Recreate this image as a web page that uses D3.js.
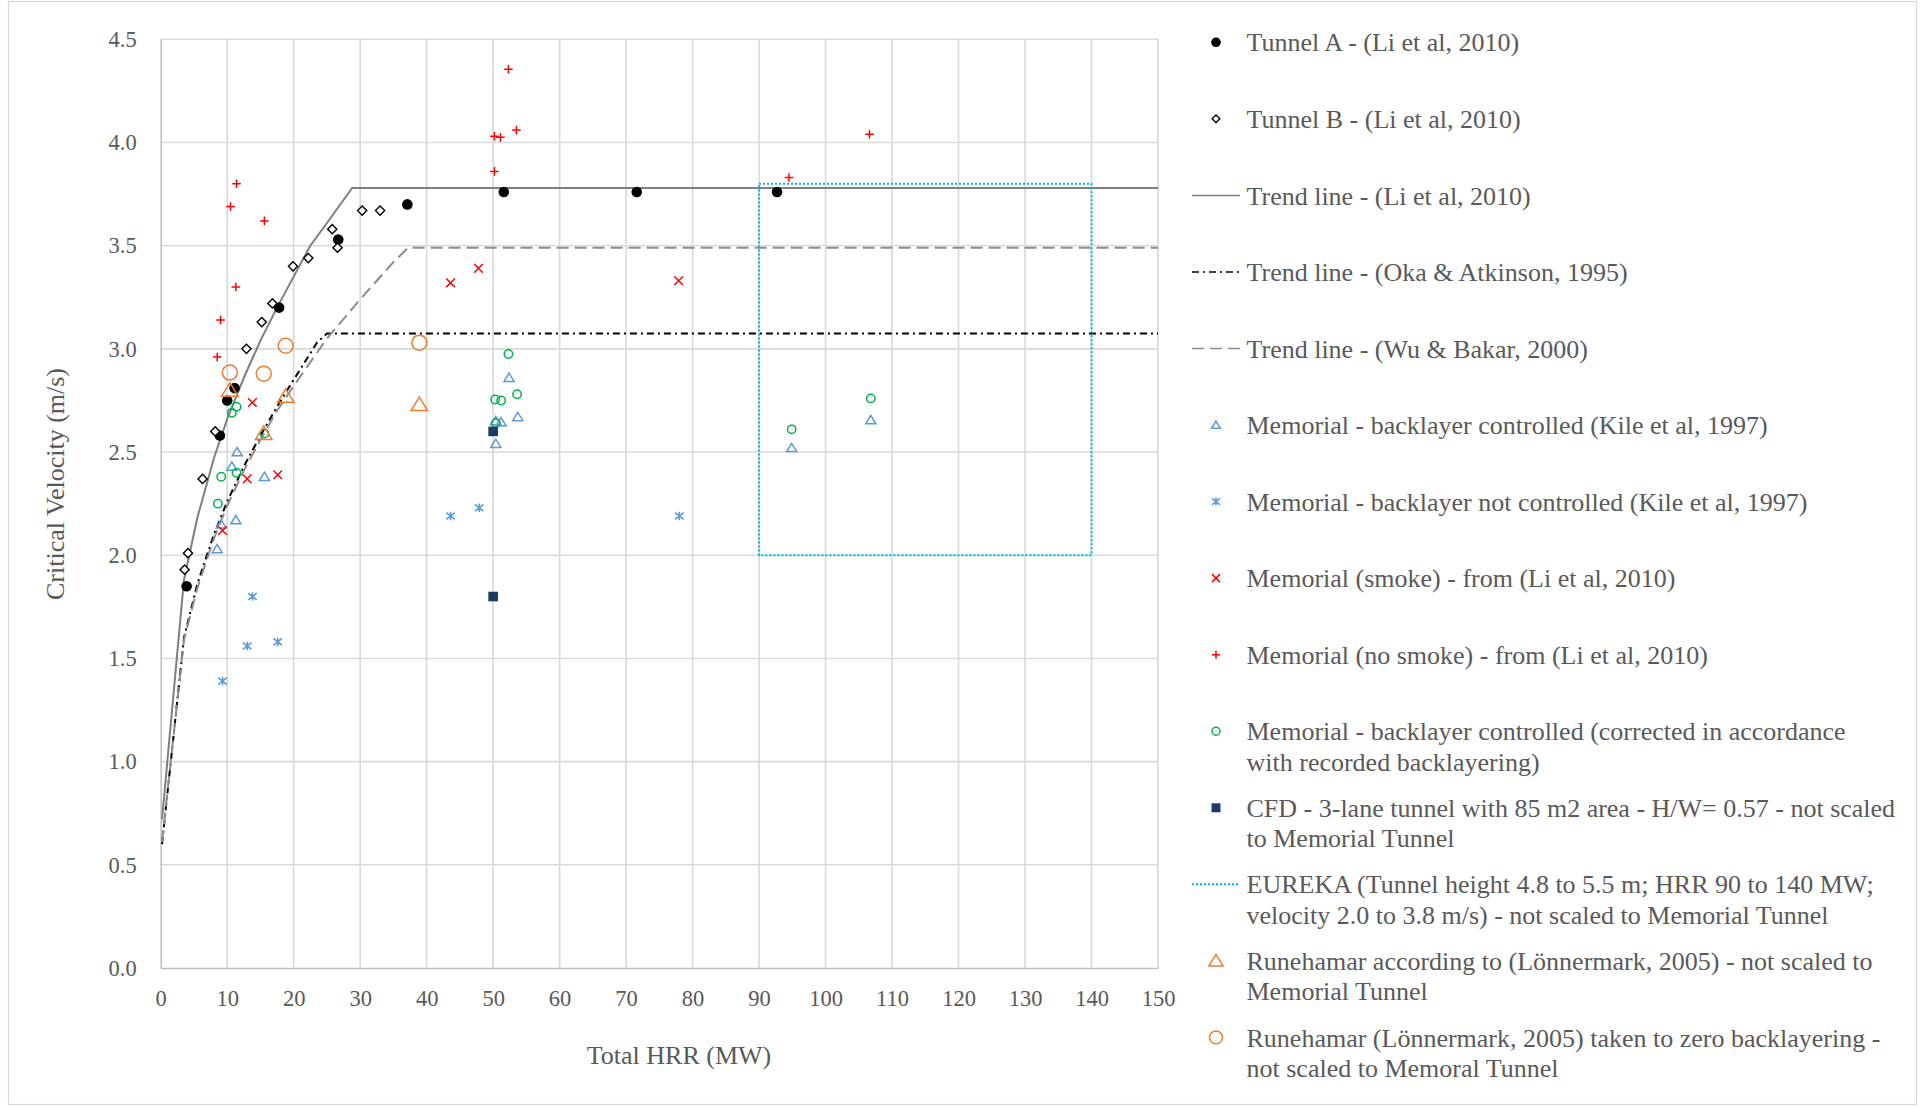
<!DOCTYPE html>
<html>
<head>
<meta charset="utf-8">
<script src="https://cdn.jsdelivr.net/npm/d3@7"></script>
<style>
  html, body { margin: 0; padding: 0; background: #fff; }
  svg { display: block; }
  text { font-family: "Liberation Serif", "Times New Roman", serif; fill: #595959; }
</style>
</head>
<body>
<svg id="chart" width="1923" height="1107"></svg>
<script>
// ---- Data ----
const xTicks = [0, 10, 20, 30, 40, 50, 60, 70, 80, 90, 100, 110, 120, 130, 140, 150];
const yTicks = [0, 0.5, 1.0, 1.5, 2.0, 2.5, 3.0, 3.5, 4.0, 4.5];

const tunnelA_hrr = [3.9, 8.9, 10.0, 11.1, 17.8, 26.7, 37.1, 51.6, 71.6, 92.7];
const tunnelA_vel = [1.85, 2.58, 2.75, 2.81, 3.20, 3.53, 3.70, 3.76, 3.76, 3.76];

const tunnelB_hrr = [3.6, 4.1, 6.3, 8.2, 12.9, 15.2, 16.8, 19.9, 22.2, 25.8, 26.6, 30.3, 33.0];
const tunnelB_vel = [1.93, 2.01, 2.37, 2.60, 3.00, 3.13, 3.22, 3.40, 3.44, 3.58, 3.49, 3.67, 3.67];

const trendLi_hrr = [0.2, 3.5, 5.5, 8, 10, 12.5, 15, 17.5, 20, 22.5, 25, 28.8, 150];
const trendLi_vel = [0.72, 1.88, 2.18, 2.47, 2.66, 2.86, 3.04, 3.20, 3.35, 3.50, 3.61, 3.78, 3.78];

const trendOka_hrr = [0.2, 3.5, 5.5, 8, 10, 12.5, 15, 17.5, 20, 23.5, 25, 150];
const trendOka_vel = [0.60, 1.60, 1.86, 2.10, 2.26, 2.43, 2.58, 2.72, 2.85, 3.03, 3.075, 3.075];

const trendWu_hrr = [0.2, 3.5, 5.5, 8, 10, 12.5, 15, 17.5, 20, 25, 30, 35, 37.2, 150];
const trendWu_vel = [0.61, 1.59, 1.84, 2.08, 2.24, 2.41, 2.56, 2.70, 2.82, 3.05, 3.24, 3.42, 3.49, 3.49];

const memCtrl_hrr = [8.5, 9.1, 11.3, 10.7, 11.5, 15.6, 50.4, 50.4, 51.2, 53.7, 52.4, 94.9, 106.8];
const memCtrl_vel = [2.03, 2.15, 2.17, 2.43, 2.50, 2.38, 2.54, 2.65, 2.645, 2.67, 2.86, 2.52, 2.655];

const memNotCtrl_hrr = [9.3, 13.0, 13.8, 17.6, 43.6, 47.9, 78.0];
const memNotCtrl_vel = [1.39, 1.56, 1.80, 1.58, 2.19, 2.23, 2.19];

const memSmoke_hrr = [9.3, 13.0, 13.8, 17.6, 43.6, 47.8, 77.9];
const memSmoke_vel = [2.12, 2.37, 2.74, 2.39, 3.32, 3.39, 3.33];

const memNoSmoke_hrr = [8.5, 9.0, 11.3, 10.5, 11.4, 15.6, 50.2, 50.2, 51.1, 53.5, 52.3, 94.5, 106.6];
const memNoSmoke_vel = [2.96, 3.14, 3.30, 3.69, 3.80, 3.62, 3.86, 4.03, 4.025, 4.06, 4.355, 3.83, 4.04];

const memCorr_hrr = [8.6, 9.1, 11.4, 10.7, 11.4, 15.6, 50.4, 50.3, 51.2, 53.6, 52.3, 94.9, 106.8];
const memCorr_vel = [2.25, 2.38, 2.40, 2.69, 2.72, 2.59, 2.64, 2.755, 2.75, 2.78, 2.975, 2.61, 2.76];

const cfd_hrr = [50, 50];
const cfd_vel = [2.60, 1.80];

const eureka_hrr = [90, 140];
const eureka_vel = [2.0, 3.8];

const runeTri_hrr = [10.4, 15.5, 18.8, 38.9];
const runeTri_vel = [2.80, 2.59, 2.77, 2.73];

const runeCirc_hrr = [10.4, 15.5, 18.8, 38.9];
const runeCirc_vel = [2.885, 2.88, 3.015, 3.03];

const legendLabels = [
  ["Tunnel A - (Li et al, 2010)"],
  ["Tunnel B - (Li et al, 2010)"],
  ["Trend line - (Li et al, 2010)"],
  ["Trend line - (Oka & Atkinson, 1995)"],
  ["Trend line - (Wu & Bakar, 2000)"],
  ["Memorial - backlayer controlled (Kile et al, 1997)"],
  ["Memorial - backlayer not controlled (Kile et al, 1997)"],
  ["Memorial (smoke) - from (Li et al, 2010)"],
  ["Memorial (no smoke) - from (Li et al, 2010)"],
  ["Memorial - backlayer controlled (corrected in accordance", "with recorded backlayering)"],
  ["CFD - 3-lane tunnel with 85 m2 area - H/W= 0.57 - not scaled", "to Memorial Tunnel"],
  ["EUREKA (Tunnel height 4.8 to 5.5 m; HRR 90 to 140 MW;", "velocity 2.0 to 3.8 m/s) - not scaled to Memorial Tunnel"],
  ["Runehamar according to (Lönnermark, 2005) - not scaled to", "Memorial Tunnel"],
  ["Runehamar (Lönnermark, 2005) taken to zero backlayering -", "not scaled to Memoral Tunnel"]
];

// ---- Layout ----
const svg = d3.select("#chart");
const plot = { left: 160.7, right: 1158, top: 39.3, bottom: 968 };

const x = d3.scaleLinear().domain([0, 150]).range([plot.left, plot.right]);
const y = d3.scaleLinear().domain([0, 4.5]).range([plot.bottom, plot.top]);

const zip = (a, b) => a.map((v, i) => [v, b[i]]);

// outer frame
svg.append("rect")
  .attr("x", 8.5).attr("y", 1.5).attr("width", 1908).attr("height", 1103)
  .attr("fill", "none").attr("stroke", "#d9d9d9").attr("stroke-width", 1.2);

// gridlines
const grid = svg.append("g");
grid.selectAll("line.h").data(yTicks.slice(1)).join("line")
  .attr("x1", plot.left).attr("x2", plot.right)
  .attr("y1", d => y(d)).attr("y2", d => y(d))
  .attr("stroke", "#d9d9d9").attr("stroke-width", 1.6);
grid.selectAll("line.v").data(xTicks.slice(1)).join("line")
  .attr("y1", plot.top).attr("y2", plot.bottom)
  .attr("x1", d => x(d)).attr("x2", d => x(d))
  .attr("stroke", "#d9d9d9").attr("stroke-width", 1.6);

// axes
const yAxis = svg.append("g").attr("transform", `translate(${plot.left},0)`)
  .call(d3.axisLeft(y).tickValues(yTicks).tickFormat(d3.format(".1f")).tickSize(0).tickPadding(24));
const xAxis = svg.append("g").attr("transform", `translate(0,${plot.bottom})`)
  .call(d3.axisBottom(x).tickValues(xTicks).tickFormat(d3.format("d")).tickSize(0).tickPadding(22));
[yAxis, xAxis].forEach(g => {
  g.select(".domain").attr("stroke", "#c0c0c0").attr("stroke-width", 1.6);
  g.selectAll("text").attr("font-size", 22.5).attr("font-family", "Liberation Serif").attr("fill", "#595959");
});

// axis titles
svg.append("text").attr("x", 679).attr("y", 1055).attr("dy", "0.35em")
  .attr("text-anchor", "middle").attr("font-size", 26).text("Total HRR (MW)");
svg.append("text").attr("transform", "translate(55,484) rotate(-90)").attr("dy", "0.35em")
  .attr("text-anchor", "middle").attr("font-size", 26).text("Critical Velocity (m/s)");

// ---- marker shapes ----
const shapes = {
  circle: r => `M${r},0A${r},${r},0,1,1,${-r},0A${r},${r},0,1,1,${r},0Z`,
  diamond: r => `M0,${-r}L${r},0L0,${r}L${-r},0Z`,
  triangle: r => `M0,${-r}L${r * 1.1},${r * 0.8}L${-r * 1.1},${r * 0.8}Z`,
  square: r => `M${-r},${-r}H${r}V${r}H${-r}Z`,
  plus: r => `M${-r},0H${r}M0,${-r}V${r}`,
  cross: r => `M${-r},${-r}L${r},${r}M${-r},${r}L${r},${-r}`,
  star: r => `M${-r},${-r * 0.8}L${r},${r * 0.8}M${-r},${r * 0.8}L${r},${-r * 0.8}M0,${-r}V${r}`
};

const series = [
  { hrr: tunnelA_hrr, vel: tunnelA_vel, shape: "circle", r: 5.3, fill: "#000", stroke: "none", sw: 0 },
  { hrr: tunnelB_hrr, vel: tunnelB_vel, shape: "diamond", r: 4.6, fill: "#fff", stroke: "#000", sw: 1.4 },
  { hrr: memCtrl_hrr, vel: memCtrl_vel, shape: "triangle", r: 4.6, fill: "none", stroke: "#5B9BD5", sw: 1.5 },
  { hrr: memNotCtrl_hrr, vel: memNotCtrl_vel, shape: "star", r: 4.3, fill: "none", stroke: "#5B9BD5", sw: 1.6 },
  { hrr: memSmoke_hrr, vel: memSmoke_vel, shape: "cross", r: 4.3, fill: "none", stroke: "#FF0000", sw: 1.5 },
  { hrr: memNoSmoke_hrr, vel: memNoSmoke_vel, shape: "plus", r: 4.3, fill: "none", stroke: "#FF0000", sw: 1.5 },
  { hrr: memCorr_hrr, vel: memCorr_vel, shape: "circle", r: 4.2, fill: "none", stroke: "#00B050", sw: 1.5 },
  { hrr: cfd_hrr, vel: cfd_vel, shape: "square", r: 4.8, fill: "#203864", stroke: "none", sw: 0 },
  { hrr: runeTri_hrr, vel: runeTri_vel, shape: "triangle", r: 7.5, fill: "none", stroke: "#ED7D31", sw: 1.5 },
  { hrr: runeCirc_hrr, vel: runeCirc_vel, shape: "circle", r: 7.5, fill: "none", stroke: "#ED7D31", sw: 1.5 }
];

// ---- trend lines ----
const line = d3.line().x(d => x(d[0])).y(d => y(d[1]));
const lines = [
  { pts: zip(trendLi_hrr, trendLi_vel), stroke: "#7f7f7f", sw: 2, dash: null },
  { pts: zip(trendOka_hrr, trendOka_vel), stroke: "#000", sw: 2, dash: "7,4,2,4" },
  { pts: zip(trendWu_hrr, trendWu_vel), stroke: "#8c8c8c", sw: 2, dash: "12,6" }
];
svg.append("g").selectAll("path").data(lines).join("path")
  .attr("d", d => line(d.pts)).attr("fill", "none")
  .attr("stroke", d => d.stroke).attr("stroke-width", d => d.sw)
  .attr("stroke-dasharray", d => d.dash);

// EUREKA envelope
svg.append("rect")
  .attr("x", x(eureka_hrr[0])).attr("y", y(eureka_vel[1]))
  .attr("width", x(eureka_hrr[1]) - x(eureka_hrr[0]))
  .attr("height", y(eureka_vel[0]) - y(eureka_vel[1]))
  .attr("fill", "none").attr("stroke", "#00B0F0").attr("stroke-width", 2)
  .attr("stroke-dasharray", "2,2");

// ---- markers ----
const markers = svg.append("g");
series.forEach(s => {
  markers.append("g").selectAll("path").data(zip(s.hrr, s.vel)).join("path")
    .attr("transform", d => `translate(${x(d[0])},${y(d[1])})`)
    .attr("d", shapes[s.shape](s.r))
    .attr("fill", s.fill).attr("stroke", s.stroke).attr("stroke-width", s.sw);
});

// ---- legend ----
const legendKeys = [
  { type: "marker", s: series[0], r: 4.8 },
  { type: "marker", s: series[1], r: 3.8 },
  { type: "line", l: lines[0] },
  { type: "line", l: lines[1] },
  { type: "line", l: lines[2] },
  { type: "marker", s: series[2], r: 4 },
  { type: "marker", s: series[3], r: 4 },
  { type: "marker", s: series[4], r: 4 },
  { type: "marker", s: series[5], r: 4 },
  { type: "marker", s: series[6], r: 4 },
  { type: "marker", s: series[7], r: 4.5 },
  { type: "eureka" },
  { type: "marker", s: series[8], r: 6.5 },
  { type: "marker", s: series[9], r: 6.5 }
];
const legend = svg.append("g");
const legendRow = legend.selectAll("g").data(legendLabels).join("g")
  .attr("transform", (d, i) => `translate(0,${42.3 + i * 76.55})`);
legendRow.each(function (d, i) {
  const g = d3.select(this);
  const k = legendKeys[i];
  if (k.type === "marker") {
    g.append("path").attr("transform", "translate(1216,0)")
      .attr("d", shapes[k.s.shape](k.r))
      .attr("fill", k.s.fill).attr("stroke", k.s.stroke).attr("stroke-width", k.s.sw);
  } else if (k.type === "line") {
    g.append("line").attr("x1", 1192).attr("x2", 1240).attr("y1", 0).attr("y2", 0)
      .attr("stroke", k.l.stroke).attr("stroke-width", 1.5)
      .attr("stroke-dasharray", k.l.dash);
  } else {
    g.append("line").attr("x1", 1192).attr("x2", 1240).attr("y1", 0).attr("y2", 0)
      .attr("stroke", "#00B0F0").attr("stroke-width", 2).attr("stroke-dasharray", "2,2");
  }
  g.selectAll("text").data(d).join("text")
    .attr("x", 1246.5).attr("y", (t, j) => j * 30.5).attr("dy", "0.35em")
    .attr("font-size", 26).text(t => t);
});
</script>
</body>
</html>
